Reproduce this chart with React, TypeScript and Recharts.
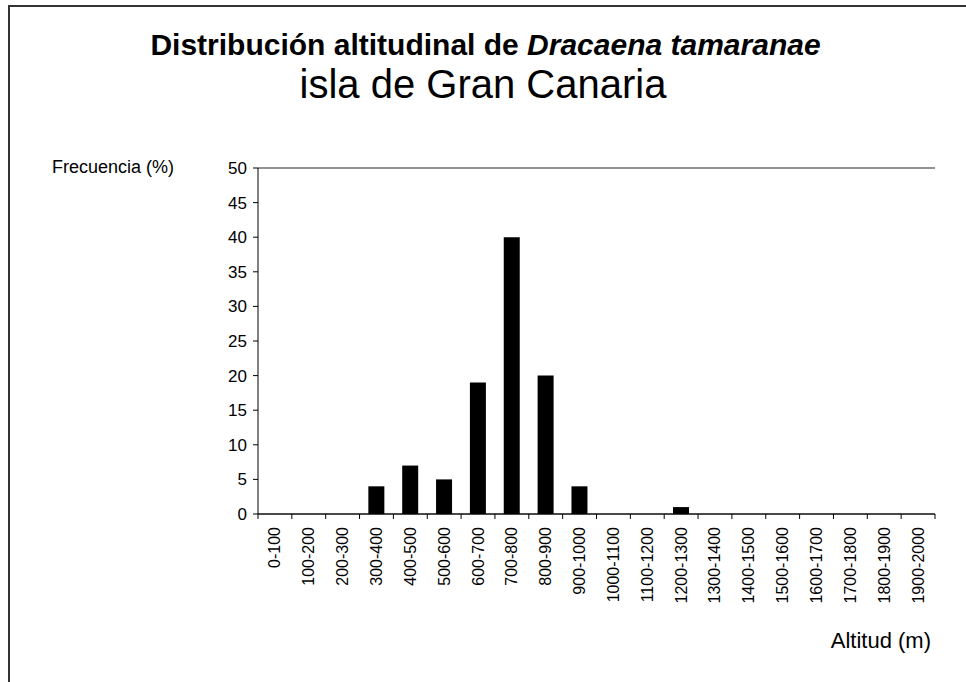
import React from 'react';
import { BarChart, Bar, XAxis, YAxis, CartesianGrid } from 'recharts';

const altitudeRanges: string[] = [
  '0-100', '100-200', '200-300', '300-400', '400-500', '500-600', '600-700',
  '700-800', '800-900', '900-1000', '1000-1100', '1100-1200', '1200-1300',
  '1300-1400', '1400-1500', '1500-1600', '1600-1700', '1700-1800', '1800-1900', '1900-2000',
];
const frequencies: number[] = [0, 0, 0, 4, 7, 5, 19, 40, 20, 4, 0, 0, 1, 0, 0, 0, 0, 0, 0, 0];
const yTicks: number[] = [0, 5, 10, 15, 20, 25, 30, 35, 40, 45, 50];

const titleMain = 'Distribución altitudinal de ';
const titleItalic = 'Dracaena tamaranae';
const subtitle = 'isla de Gran Canaria';
const yLabel = 'Frecuencia (%)';
const xLabel = 'Altitud (m)';

const data = altitudeRanges.map((r, i) => ({ range: r, freq: frequencies[i] }));

const W = 966;
const H = 682;
const PLOT_LEFT = 258;
const PLOT_RIGHT = 935;
const PLOT_TOP = 168;
const PLOT_BOTTOM = 514;
const Y_AXIS_W = 40;
const X_AXIS_H = 100;
const TICK_SIZE = 5;
const TICK_MARGIN = 8;
const TICK_FONT = 16;
const FONT = '"Liberation Sans", Arial, sans-serif';

const XTick = (props: any) => {
  const { x, y, payload, index } = props;
  const half = (PLOT_RIGHT - PLOT_LEFT) / altitudeRanges.length / 2;
  const axisY = y - TICK_SIZE - TICK_MARGIN;
  return (
    <g>
      <line x1={x - half} x2={x - half} y1={axisY} y2={axisY + TICK_SIZE} stroke="#000" />
      {index === altitudeRanges.length - 1 && (
        <line x1={x + half} x2={x + half} y1={axisY} y2={axisY + TICK_SIZE} stroke="#000" />
      )}
      <text
        x={x}
        y={y}
        transform={`rotate(-90, ${x}, ${y})`}
        textAnchor="end"
        dominantBaseline="central"
        fontSize={TICK_FONT}
        fontFamily={FONT}
        fill="#000"
      >
        {payload.value}
      </text>
    </g>
  );
};

export default function App() {
  return (
    <div
      style={{
        position: 'absolute',
        left: 0,
        top: 0,
        width: W,
        height: H,
        overflow: 'hidden',
        background: '#fff',
        fontFamily: FONT,
        color: '#000',
      }}
    >
      <div
        style={{
          position: 'absolute',
          left: 8,
          top: 5,
          width: 1000,
          height: 720,
          borderLeft: '2px solid #333',
          borderTop: '2px solid #333',
        }}
      />
      <div
        style={{
          position: 'absolute',
          left: 0,
          width: 971,
          top: 30,
          textAlign: 'center',
          fontSize: 30,
          lineHeight: '30px',
          fontWeight: 'bold',
          whiteSpace: 'nowrap',
        }}
      >
        {titleMain}
        <i>{titleItalic}</i>
      </div>
      <div
        style={{
          position: 'absolute',
          left: 0,
          width: 966,
          top: 64,
          textAlign: 'center',
          fontSize: 40,
          lineHeight: '40px',
          whiteSpace: 'nowrap',
        }}
      >
        {subtitle}
      </div>
      <div
        style={{
          position: 'absolute',
          left: 52,
          top: 158,
          fontSize: 18,
          lineHeight: '18px',
          whiteSpace: 'nowrap',
        }}
      >
        {yLabel}
      </div>
      <div
        style={{
          position: 'absolute',
          right: W - 931,
          top: 630,
          fontSize: 22,
          lineHeight: '22px',
          whiteSpace: 'nowrap',
        }}
      >
        {xLabel}
      </div>
      <div style={{ position: 'absolute', left: 0, top: 0 }}>
        <BarChart
          width={W}
          height={H}
          data={data}
          margin={{
            top: PLOT_TOP,
            right: W - PLOT_RIGHT,
            left: PLOT_LEFT - Y_AXIS_W,
            bottom: H - PLOT_BOTTOM - X_AXIS_H,
          }}
          barCategoryGap="26%"
        >
          <CartesianGrid vertical={false} stroke="#000" strokeOpacity={0.85} />
          <XAxis
            dataKey="range"
            interval={0}
            height={X_AXIS_H}
            tickLine={false}
            tickSize={TICK_SIZE}
            tickMargin={TICK_MARGIN}
            axisLine={{ stroke: '#000' }}
            tick={<XTick />}
          />
          <YAxis
            yAxisId="left"
            domain={[0, 50]}
            ticks={yTicks}
            interval={0}
            width={Y_AXIS_W}
            tickSize={TICK_SIZE}
            tickMargin={6}
            axisLine={{ stroke: '#000' }}
            tickLine={{ stroke: '#000' }}
            tick={{ fill: '#000', fontSize: 17, fontFamily: FONT }}
          />
          <YAxis
            yAxisId="right"
            orientation="right"
            domain={[0, 50]}
            width={0}
            tick={false}
            tickLine={false}
            axisLine={{ stroke: '#000' }}
          />
          <Bar yAxisId="left" dataKey="freq" fill="#000" isAnimationActive={false} />
        </BarChart>
      </div>
    </div>
  );
}
